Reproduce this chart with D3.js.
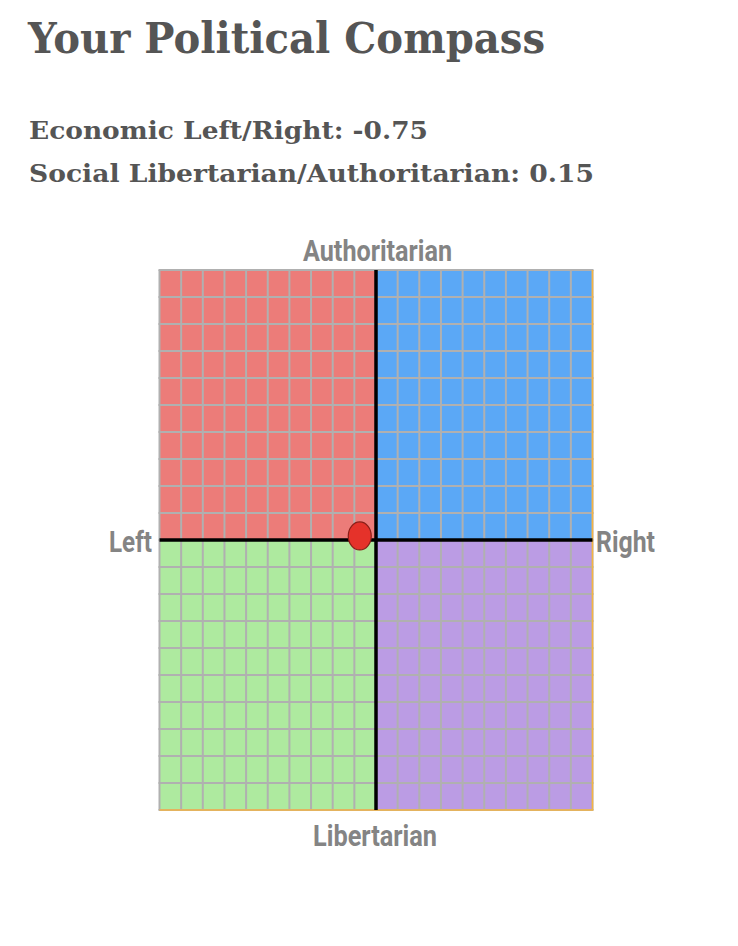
<!DOCTYPE html>
<html>
<head>
  <meta charset="utf-8">
  <title>Your Political Compass</title>
  <script src="https://cdn.jsdelivr.net/npm/d3@7"></script>
  <style>
    body { margin: 0; background: #fff; }
  </style>
</head>
<body>
  <script>
    // the result
    var economic = [-0.75];
    var social = [0.15];

    // quadrants: [x from, x to, y from, y to]
    var quadNames = ["Authoritarian Left", "Authoritarian Right", "Libertarian Left", "Libertarian Right"];
    var quadX = [[-10, 0], [0, 10], [-10, 0], [0, 10]];
    var quadY = [[10, 0], [10, 0], [0, -10], [0, -10]];
    var quadColors = ["#ec7c79", "#5ba8f6", "#aeea9f", "#bb9ce4"];

    var gridValues = d3.range(-10, 11);

    var width = 738, height = 946;

    var svg = d3.select("body").append("svg")
      .attr("width", width)
      .attr("height", height);

    // header text
    svg.append("text")
      .attr("x", 28).attr("y", 53)
      .attr("textLength", 517).attr("lengthAdjust", "spacingAndGlyphs")
      .style("font-family", "DejaVu Serif")
      .style("font-weight", "bold")
      .style("font-size", "42px")
      .style("fill", "#555")
      .text("Your Political Compass");

    svg.append("text")
      .attr("x", 29).attr("y", 139)
      .attr("textLength", 399).attr("lengthAdjust", "spacingAndGlyphs")
      .style("font-family", "DejaVu Serif")
      .style("font-weight", "bold")
      .style("font-size", "25px")
      .style("fill", "#555")
      .text("Economic Left/Right: " + economic[0]);

    svg.append("text")
      .attr("x", 29).attr("y", 182)
      .attr("textLength", 565).attr("lengthAdjust", "spacingAndGlyphs")
      .style("font-family", "DejaVu Serif")
      .style("font-weight", "bold")
      .style("font-size", "25px")
      .style("fill", "#555")
      .text("Social Libertarian/Authoritarian: " + social[0]);

    // compass
    var x = d3.scaleLinear().domain([-10, 10]).range([159.5, 592.5]);
    var y = d3.scaleLinear().domain([10, -10]).range([270, 810]);

    var compass = svg.append("g").attr("id", "compass");

    compass.selectAll("rect.quad")
      .data(quadNames)
      .enter()
      .append("rect")
      .attr("class", "quad")
      .attr("x", function(d, i) { return x(quadX[i][0]); })
      .attr("y", function(d, i) { return y(quadY[i][0]); })
      .attr("width", function(d, i) { return x(quadX[i][1]) - x(quadX[i][0]); })
      .attr("height", function(d, i) { return y(quadY[i][1]) - y(quadY[i][0]); })
      .attr("fill", function(d, i) { return quadColors[i]; });

    // grid
    compass.selectAll("line.vgrid")
      .data(gridValues)
      .enter()
      .append("line")
      .attr("class", "vgrid")
      .attr("x1", function(d) { return x(d); })
      .attr("x2", function(d) { return x(d); })
      .attr("y1", y(10)).attr("y2", y(-10))
      .attr("stroke", "#b0b0b0")
      .attr("stroke-width", 2);

    compass.selectAll("line.hgrid")
      .data(gridValues)
      .enter()
      .append("line")
      .attr("class", "hgrid")
      .attr("y1", function(d) { return y(d); })
      .attr("y2", function(d) { return y(d); })
      .attr("x1", x(-10) - 1).attr("x2", x(10) + 1)
      .attr("stroke", "#b0b0b0")
      .attr("stroke-width", 2);

    // orange edge right and bottom
    compass.append("path")
      .attr("d", "M" + x(10) + "," + y(10) + "V" + y(-10) + "H" + x(-10))
      .attr("fill", "none")
      .attr("stroke", "#f5b443")
      .attr("stroke-width", 1.5);

    // axes
    compass.append("line")
      .attr("x1", x(0)).attr("x2", x(0))
      .attr("y1", y(10)).attr("y2", y(-10))
      .attr("stroke", "#000").attr("stroke-width", 3.5);
    compass.append("line")
      .attr("x1", x(-10)).attr("x2", x(10))
      .attr("y1", y(0)).attr("y2", y(0))
      .attr("stroke", "#000").attr("stroke-width", 3.5);

    // labels
    function axisLabel(txt, lx, ly, anchor, len) {
      svg.append("text")
        .attr("x", lx).attr("y", ly)
        .attr("text-anchor", anchor)
        .attr("textLength", len).attr("lengthAdjust", "spacingAndGlyphs")
        .style("font-family", "Roboto")
        .style("font-weight", "bold")
        .style("font-size", "29px")
        .style("fill", "#848484")
        .text(txt);
    }
    axisLabel("Authoritarian", 303, 261, "start", 149);
    axisLabel("Libertarian", 313, 846, "start", 124);
    axisLabel("Left", 109, 552, "start", 43);
    axisLabel("Right", 596, 552, "start", 59);

    // the point
    compass.selectAll("ellipse.me")
      .data(economic)
      .enter()
      .append("ellipse")
      .attr("class", "me")
      .attr("cx", function(d) { return x(d); })
      .attr("cy", function(d, i) { return y(social[i]); })
      .attr("rx", 11.5)
      .attr("ry", 14)
      .attr("fill", "#e5322a")
      .attr("stroke", "#8a1f18")
      .attr("stroke-width", 1.2);
  </script>
</body>
</html>
